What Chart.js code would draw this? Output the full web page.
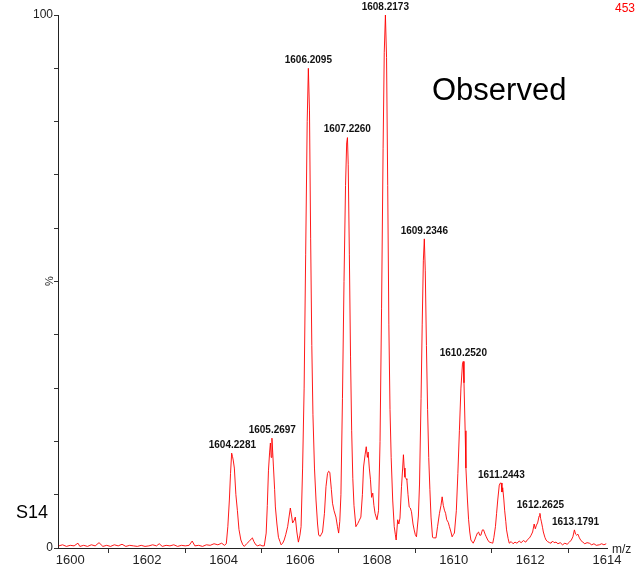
<!DOCTYPE html>
<html>
<head>
<meta charset="utf-8">
<script src="https://cdn.jsdelivr.net/npm/chart.js@4.4.0/dist/chart.umd.min.js"></script>
<style>
  body { margin: 0; background: #fff; }
  canvas { display: block; }
</style>
</head>
<body>
<canvas id="spectrum_chart" width="644" height="567"></canvas>
<script>
// スペクトルの m/z 値
const mzValues = [
    1599.70, 1599.80, 1599.90, 1600.00, 1600.10, 1600.20, 1600.25, 1600.35, 1600.45, 1600.55,
    1600.65, 1600.75, 1600.85, 1600.95, 1601.05, 1601.15, 1601.25, 1601.35, 1601.45, 1601.55,
    1601.65, 1601.75, 1601.85, 1601.95, 1602.05, 1602.15, 1602.25, 1602.32, 1602.40, 1602.50,
    1602.60, 1602.70, 1602.80, 1602.90, 1603.00, 1603.10, 1603.18, 1603.25, 1603.35, 1603.45,
    1603.55, 1603.65, 1603.75, 1603.85, 1603.95, 1604.02, 1604.07,
    1604.11, 1604.15, 1604.18, 1604.21, 1604.23, 1604.25, 1604.28, 1604.32, 1604.36, 1604.40,
    1604.45, 1604.50, 1604.54, 1604.60, 1604.66, 1604.72, 1604.75, 1604.79, 1604.84, 1604.89,
    1604.95, 1605.00, 1605.06,
    1605.11, 1605.14, 1605.17, 1605.20, 1605.22, 1605.24, 1605.26, 1605.28, 1605.30, 1605.33,
    1605.35, 1605.39, 1605.43, 1605.47, 1605.50, 1605.54, 1605.58, 1605.62, 1605.67, 1605.71,
    1605.74, 1605.77, 1605.80, 1605.84, 1605.87, 1605.91, 1605.95, 1605.99, 1606.02,
    1606.06, 1606.10, 1606.14, 1606.18, 1606.21, 1606.24, 1606.27, 1606.30, 1606.33, 1606.37,
    1606.41, 1606.45, 1606.48, 1606.52,
    1606.55, 1606.58, 1606.63, 1606.67, 1606.71, 1606.74, 1606.77, 1606.81, 1606.84, 1606.88,
    1606.93, 1606.97, 1607.00, 1607.03,
    1607.06, 1607.10, 1607.14, 1607.18, 1607.21, 1607.23, 1607.25, 1607.28, 1607.31, 1607.34,
    1607.37, 1607.40, 1607.45,
    1607.50, 1607.54, 1607.58, 1607.62, 1607.65, 1607.69, 1607.72, 1607.75, 1607.77, 1607.80,
    1607.83, 1607.86, 1607.89, 1607.92, 1607.95, 1608.00, 1608.04,
    1608.08, 1608.12, 1608.16, 1608.19, 1608.22, 1608.25, 1608.28, 1608.31, 1608.34, 1608.37,
    1608.41, 1608.45, 1608.48, 1608.50, 1608.54, 1608.57, 1608.60, 1608.64, 1608.67, 1608.69,
    1608.71, 1608.73, 1608.76, 1608.78, 1608.81, 1608.84, 1608.87, 1608.90, 1608.94, 1608.97,
    1609.00, 1609.03,
    1609.08, 1609.11, 1609.15, 1609.18, 1609.21, 1609.235, 1609.26, 1609.29, 1609.32, 1609.35,
    1609.38, 1609.41, 1609.45, 1609.48, 1609.54, 1609.58, 1609.63, 1609.67, 1609.70, 1609.73,
    1609.76, 1609.79, 1609.82, 1609.86, 1609.89, 1609.93, 1609.96, 1609.99, 1610.02,
    1610.07, 1610.11, 1610.15, 1610.19, 1610.23, 1610.25, 1610.27, 1610.30, 1610.32, 1610.36,
    1610.39, 1610.42, 1610.45, 1610.51, 1610.55, 1610.58, 1610.62, 1610.65, 1610.68, 1610.71,
    1610.75, 1610.78, 1610.82, 1610.85, 1610.89, 1610.93, 1610.98, 1611.02,
    1611.05, 1611.09, 1611.12, 1611.15, 1611.19, 1611.22, 1611.24, 1611.26, 1611.28, 1611.31,
    1611.33, 1611.36, 1611.38, 1611.42, 1611.45, 1611.50, 1611.55, 1611.60, 1611.65, 1611.71,
    1611.76, 1611.82, 1611.88, 1611.93, 1611.98,
    1612.02, 1612.06, 1612.10, 1612.13, 1612.16, 1612.19, 1612.23, 1612.25, 1612.27, 1612.29,
    1612.32, 1612.34, 1612.38, 1612.41, 1612.45, 1612.50, 1612.54, 1612.58, 1612.62, 1612.67,
    1612.72, 1612.78, 1612.84, 1612.90, 1612.96,
    1613.02, 1613.07, 1613.11, 1613.15, 1613.18, 1613.21, 1613.24, 1613.28, 1613.32, 1613.37,
    1613.42, 1613.48, 1613.54, 1613.60, 1613.66, 1613.72, 1613.80, 1613.86, 1613.92, 1613.98
];

// 相対強度 (%)
const intensityValues = [
    0.4, 0.6, 0.3, 0.5, 0.4, 0.9, 0.3, 0.5, 0.3, 0.6,
    0.4, 1.0, 0.3, 0.5, 0.3, 0.6, 0.4, 0.7, 0.3, 0.5,
    0.4, 0.3, 0.5, 0.3, 0.4, 0.6, 0.4, 0.8, 0.3, 0.5,
    0.4, 0.6, 0.3, 0.5, 0.4, 0.5, 1.3, 0.4, 0.5, 0.3,
    0.6, 0.5, 0.8, 0.6, 0.9, 0.5, 0.8,
    4, 9, 14, 17.8, 17.2, 16.5, 15, 10, 7, 3.5,
    1.5, 0.6, 0.3, 0.8, 1.2, 1.7, 1.9, 1.2, 0.6, 0.4,
    0.6, 0.4, 0.4,
    2.8, 8, 14.6, 18, 19.7, 17, 20.6, 18, 15.2, 11,
    7.7, 4.5, 2, 1.2, 0.6, 0.9, 1.5, 2.5, 4, 6,
    7.5, 6.2, 4.7, 5.2, 5.8, 3, 1.1, 2.4, 4,
    15, 30, 55, 80, 90, 82, 58, 38, 25, 15,
    9, 4.5, 2.4, 2.2,
    2.6, 3, 6.5, 11.5, 14, 14.4, 14.2, 11, 8.4, 7,
    5.8, 4, 2.8, 5,
    10, 28, 50, 68, 76, 77, 72, 55, 36, 22,
    13, 8, 4,
    4.6, 5.2, 5.8, 10, 15.2, 17.5, 19, 17, 18, 15,
    12.8, 9.5, 10.3, 8, 6.5, 5.3, 7,
    20, 45, 75, 93, 100, 92, 68, 42, 26, 17,
    9, 4, 2.5, 1.5, 5.3, 4.5, 5.6, 11.5, 15, 17.5,
    15, 13.3, 13, 12.8, 10, 7.7, 7.5, 6.8, 4.5, 3.4,
    2.5, 2.1,
    6, 12, 28, 42, 54, 58, 52, 38, 26, 17,
    11, 5.8, 2, 1.9, 1.9, 4, 6.5, 8, 9.6, 8,
    7.1, 6.5, 5.3, 4.8, 4, 3, 2.1, 2.5, 2.8,
    7, 14, 22, 30, 34.5, 35, 31, 22, 15, 9,
    5.3, 3, 1.5, 0.9, 1.5, 2.1, 2.8, 3, 2.4, 2.4,
    3.4, 3.4, 2.6, 2.1, 1.5, 1.1, 1, 0.9,
    2, 4, 6.5, 9, 11.8, 12.2, 12.2, 10.5, 11.3, 9,
    7.1, 5, 3.4, 1.8, 0.9, 1.2, 0.8, 1.1, 0.9, 1.3,
    1, 1.4, 1.1, 1.6, 1.9,
    2.4, 3, 4.5, 3.6, 4.3, 4.7, 6, 6.5, 5.5, 4.9,
    3.8, 3, 2, 1.5, 1.2, 1.0, 0.9, 1.3, 1.0, 1.1,
    0.8, 1.0, 0.6, 0.9, 0.7,
    1.1, 1.5, 2.1, 3.4, 2.6, 2.4, 2.6, 1.9, 1.4, 1.1,
    0.8, 1.0, 0.9, 0.6, 0.8, 0.5, 0.6, 0.8, 0.6, 0.8
];

// ピークのラベル
const peakMz = [1604.2281, 1605.2697, 1606.2095, 1607.2260, 1608.2173, 1609.2346, 1610.2520, 1611.2443, 1612.2625, 1613.1791];
const peakTop = [17.8, 20.6, 90, 77, 100, 58, 35, 12.2, 6.5, 3.4];
const peakText = ['1604.2281', '1605.2697', '1606.2095', '1607.2260', '1608.2173', '1609.2346', '1610.2520', '1611.2443', '1612.2625', '1613.1791'];

// 軸の設定
const mzMin = 1599.68;
const mzMax = 1614;
const yTickLabels = [0, 100];
const maxCount = '453';

const FONT = '"Liberation Sans", Arial, sans-serif';

// 文字を描くプラグイン
const spectrumTextPlugin = {
    id: 'spectrumText',
    afterDraw(chart) {
        const ctx = chart.ctx;
        const xs = chart.scales.x;
        const ys = chart.scales.y;
        ctx.save();
        // ピークの m/z
        ctx.font = 'bold 10px ' + FONT;
        ctx.fillStyle = '#111';
        ctx.textAlign = 'center';
        ctx.textBaseline = 'bottom';
        for (let i = 0; i < peakMz.length; i++) {
            const px = xs.getPixelForValue(peakMz[i]);
            const py = ys.getPixelForValue(peakTop[i]);
            ctx.fillText(peakText[i], px, py - 3);
        }
        // Observed
        ctx.font = '31px ' + FONT;
        ctx.textAlign = 'left';
        ctx.textBaseline = 'alphabetic';
        ctx.fillStyle = '#000';
        ctx.fillText('Observed', 432, 100);
        // S14
        ctx.font = '18px ' + FONT;
        ctx.fillText('S14', 16, 518);
        // 最大カウント
        ctx.font = '12px ' + FONT;
        ctx.fillStyle = '#ff0000';
        ctx.textAlign = 'right';
        ctx.fillText(maxCount, 635, 12);
        // m/z
        ctx.fillStyle = '#222';
        ctx.textAlign = 'left';
        ctx.textBaseline = 'middle';
        ctx.fillText('m/z', 612, 550);
        // %
        ctx.save();
        ctx.translate(50, 281);
        ctx.rotate(-Math.PI / 2);
        ctx.textAlign = 'center';
        ctx.font = '11px ' + FONT;
        ctx.fillText('%', 0, 0);
        ctx.restore();
        ctx.restore();
    }
};

function createChart() {
    const points = [];
    for (let i = 0; i < mzValues.length; i++) {
        points.push({ x: mzValues[i], y: intensityValues[i] });
    }
    const ctx = document.getElementById('spectrum_chart').getContext('2d');
    new Chart(ctx, {
        type: 'line',
        data: {
            datasets: [{
                data: points,
                borderColor: 'rgba(255, 0, 0, 0.9)',
                borderWidth: 1,
                pointRadius: 0,
                tension: 0,
                fill: false
            }]
        },
        options: {
            responsive: false,
            animation: false,
            layout: { padding: { top: 15, right: 37, left: 0, bottom: 0 } },
            scales: {
                x: {
                    type: 'linear',
                    min: mzMin,
                    max: mzMax,
                    afterFit: function(scale) { scale.height = 19; },
                    border: { color: '#222', width: 1 },
                    grid: {
                        drawOnChartArea: false,
                        tickLength: 5,
                        tickColor: function(c) {
                            return (c.tick && Math.round(c.tick.value) % 2 === 0) ? 'rgba(0,0,0,0)' : '#333';
                        }
                    },
                    ticks: {
                        stepSize: 1,
                        autoSkip: false,
                        includeBounds: false,
                        maxRotation: 0,
                        padding: 0,
                        color: '#222',
                        font: { family: FONT, size: 13 },
                        callback: function(value) {
                            const v = Math.round(value);
                            return v % 2 === 0 ? String(v) : '';
                        }
                    }
                },
                y: {
                    min: 0,
                    max: 100,
                    afterFit: function(scale) { scale.width = 58; },
                    border: { color: '#222', width: 1 },
                    grid: {
                        drawOnChartArea: false,
                        tickLength: 4,
                        tickColor: '#333'
                    },
                    ticks: {
                        stepSize: 10,
                        autoSkip: false,
                        padding: 1,
                        color: '#222',
                        font: { family: FONT, size: 12 },
                        callback: function(value) {
                            return yTickLabels.indexOf(Math.round(value)) >= 0 ? String(Math.round(value)) : '';
                        }
                    }
                }
            },
            plugins: {
                legend: { display: false },
                tooltip: { enabled: false }
            }
        },
        plugins: [spectrumTextPlugin]
    });
}

createChart();
</script>
</body>
</html>
